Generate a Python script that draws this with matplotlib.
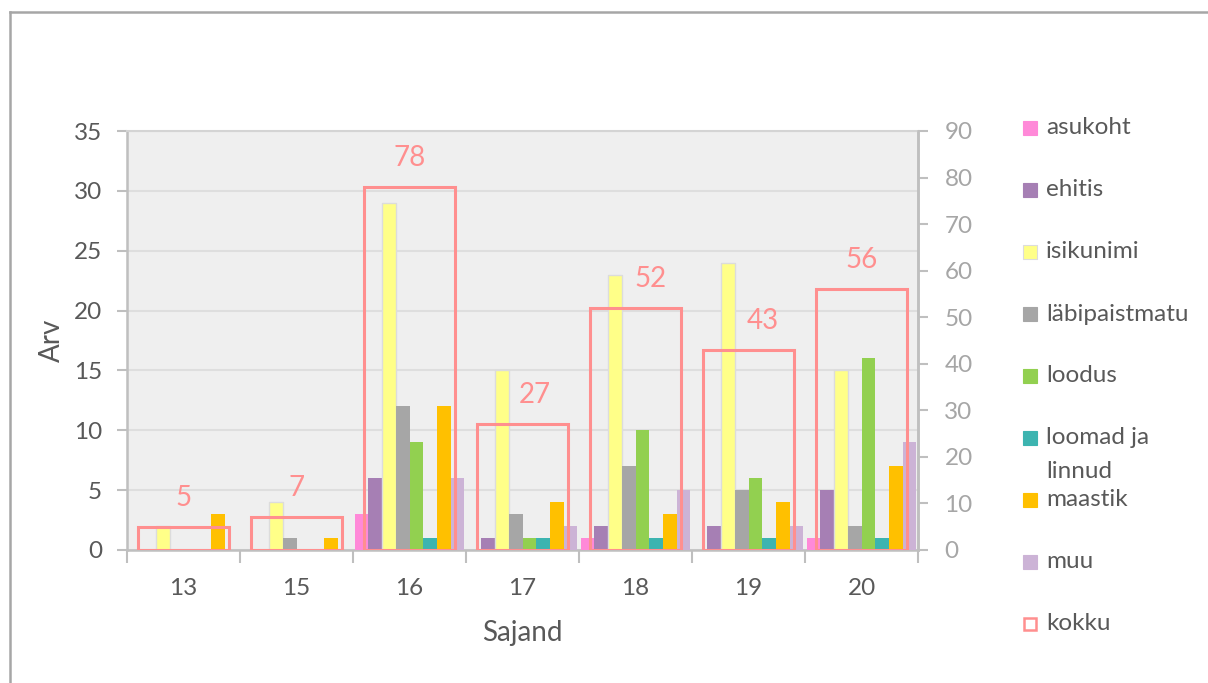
import matplotlib
matplotlib.use("Agg")
import matplotlib.pyplot as plt
from matplotlib.patches import Rectangle
from matplotlib.lines import Line2D
import numpy as np

plt.rcParams['font.family'] = ['Lato', 'DejaVu Sans']

categories = ["13", "15", "16", "17", "18", "19", "20"]
series_names = ["asukoht", "ehitis", "isikunimi", "läbipaistmatu", "loodus",
                "loomad ja\nlinnud", "maastik", "muu"]
asukoht = [0, 0, 3, 0, 1, 0, 1]
ehitis = [0, 0, 6, 1, 2, 2, 5]
isikunimi = [2, 4, 29, 15, 23, 24, 15]
labipaistmatu = [0, 1, 12, 3, 7, 5, 2]
loodus = [0, 0, 9, 1, 10, 6, 16]
loomad = [0, 0, 1, 1, 1, 1, 1]
maastik = [3, 1, 12, 4, 3, 4, 7]
muu = [0, 0, 6, 2, 5, 2, 9]
kokku = [5, 7, 78, 27, 52, 43, 56]
kokku_label = "kokku"

series_values = [asukoht, ehitis, isikunimi, labipaistmatu, loodus, loomad, maastik, muu]
colors = ["#ff89d8", "#a67fb4", "#ffff88", "#a6a6a6", "#92d050", "#3cb4b0", "#ffc000", "#ccb3d6"]
edges = [None, None, "#dcdcdc", None, None, None, None, None]
kokku_color = "#ff8f8f"
label_dx = [0, 0, 0, 9, 11, 10, 0]  # points, label nudges as in reference

TICK_FS = 17.5
W, H = 1208, 683
fig = plt.figure(figsize=(W / 100, H / 100), dpi=100)
ax = fig.add_axes([127 / W, 1 - 550 / H, (918 - 127) / W, (550 - 131) / H])
ax.set_facecolor("#efefef")

x = np.arange(len(categories))
n = len(series_values)
bw = 1 / (n + 0.25)
for j, (vals, c, e) in enumerate(zip(series_values, colors, edges)):
    ax.bar(x + (j - (n - 1) / 2) * bw, vals, width=bw, color=c,
           edgecolor=e if e else c, linewidth=1.0 if e else 0, zorder=3,
           label=series_names[j].replace("\n", " "))

ax.set_xlim(-0.5, len(categories) - 0.5)
ax.set_ylim(0, 35)
ax.set_yticks(np.arange(0, 36, 5))
ax.yaxis.grid(True, color="#dedede", linewidth=1.5, zorder=0)
ax.set_axisbelow(True)

# x ticks at boundaries, labels at centres
ax.set_xticks(np.arange(-0.5, len(categories), 1.0))
ax.set_xticklabels([])
ax.set_xticks(x, minor=True)
ax.set_xticklabels(categories, minor=True)
ax.tick_params(axis="x", which="major", length=9, width=1.5, color="#bfbfbf", direction="out")
ax.tick_params(axis="x", which="minor", length=0, pad=20, labelsize=TICK_FS, labelcolor="#595959")
ax.tick_params(axis="y", length=7, width=1.5, color="#bfbfbf", pad=11, labelsize=TICK_FS,
               labelcolor="#595959")

for s in ["left", "bottom", "right"]:
    ax.spines[s].set_color("#bfbfbf")
    ax.spines[s].set_linewidth(1.8)
ax.spines["top"].set_color("#d4d4d4")
ax.spines["top"].set_linewidth(1.5)

ax.set_xlabel("Sajand", fontsize=20, color="#595959", labelpad=15)
ax.set_ylabel("Arv", fontsize=20, color="#595959", labelpad=6)

ax2 = ax.twinx()
ax2.set_ylim(0, 90)
ax2.set_yticks(np.arange(0, 91, 10))
ax2.bar(x, kokku, width=0.8, fill=False, edgecolor=kokku_color, linewidth=2.2, zorder=4)
for xi, v, dx in zip(x, kokku, label_dx):
    ax2.annotate(str(v), (xi, v), xytext=(dx, 21), textcoords="offset points",
                 ha="center", va="center", fontsize=20, color=kokku_color)
ax2.tick_params(axis="y", length=7, width=1.5, color="#bfbfbf", pad=12, labelsize=TICK_FS,
                labelcolor="#a6a6a6")
for s in ["left", "bottom", "right", "top"]:
    ax2.spines[s].set_visible(False)
ax2.spines["right"].set_visible(True)
ax2.spines["right"].set_color("#bfbfbf")
ax2.spines["right"].set_linewidth(1.8)

# manual legend
leg_x_box = 1023 / W
leg_x_text = 1046 / W
bs_w = 14 / W
bs_h = 14 / H
names_all = series_names + [kokku_label]
for i, name in enumerate(names_all):
    yc = 128 + 62 * i
    yf = 1 - yc / H
    if i < n:
        fig.add_artist(Rectangle((leg_x_box, yf - bs_h / 2), bs_w, bs_h, transform=fig.transFigure,
                                 facecolor=colors[i], edgecolor=edges[i] if edges[i] else colors[i],
                                 linewidth=0.8))
    else:
        fig.add_artist(Rectangle((leg_x_box + 1 / W, yf - bs_h / 2 + 1 / H), bs_w - 2 / W, bs_h - 2 / H,
                                 transform=fig.transFigure, facecolor="white",
                                 edgecolor=kokku_color, linewidth=1.8))
    lines = name.split("\n")
    for k, ln in enumerate(lines):
        fig.text(leg_x_text, 1 - (yc + 33 * k) / H, ln, fontsize=TICK_FS, color="#595959",
                 ha="left", va="center")

# chart area border
fig.add_artist(Line2D([10 / W, 10 / W], [0, 1 - 12 / H], transform=fig.transFigure,
                      color="#a6a6a6", linewidth=1.8))
fig.add_artist(Line2D([10 / W, 1], [1 - 12 / H, 1 - 12 / H], transform=fig.transFigure,
                      color="#a6a6a6", linewidth=1.8))

fig.savefig("out.png", dpi=100)
